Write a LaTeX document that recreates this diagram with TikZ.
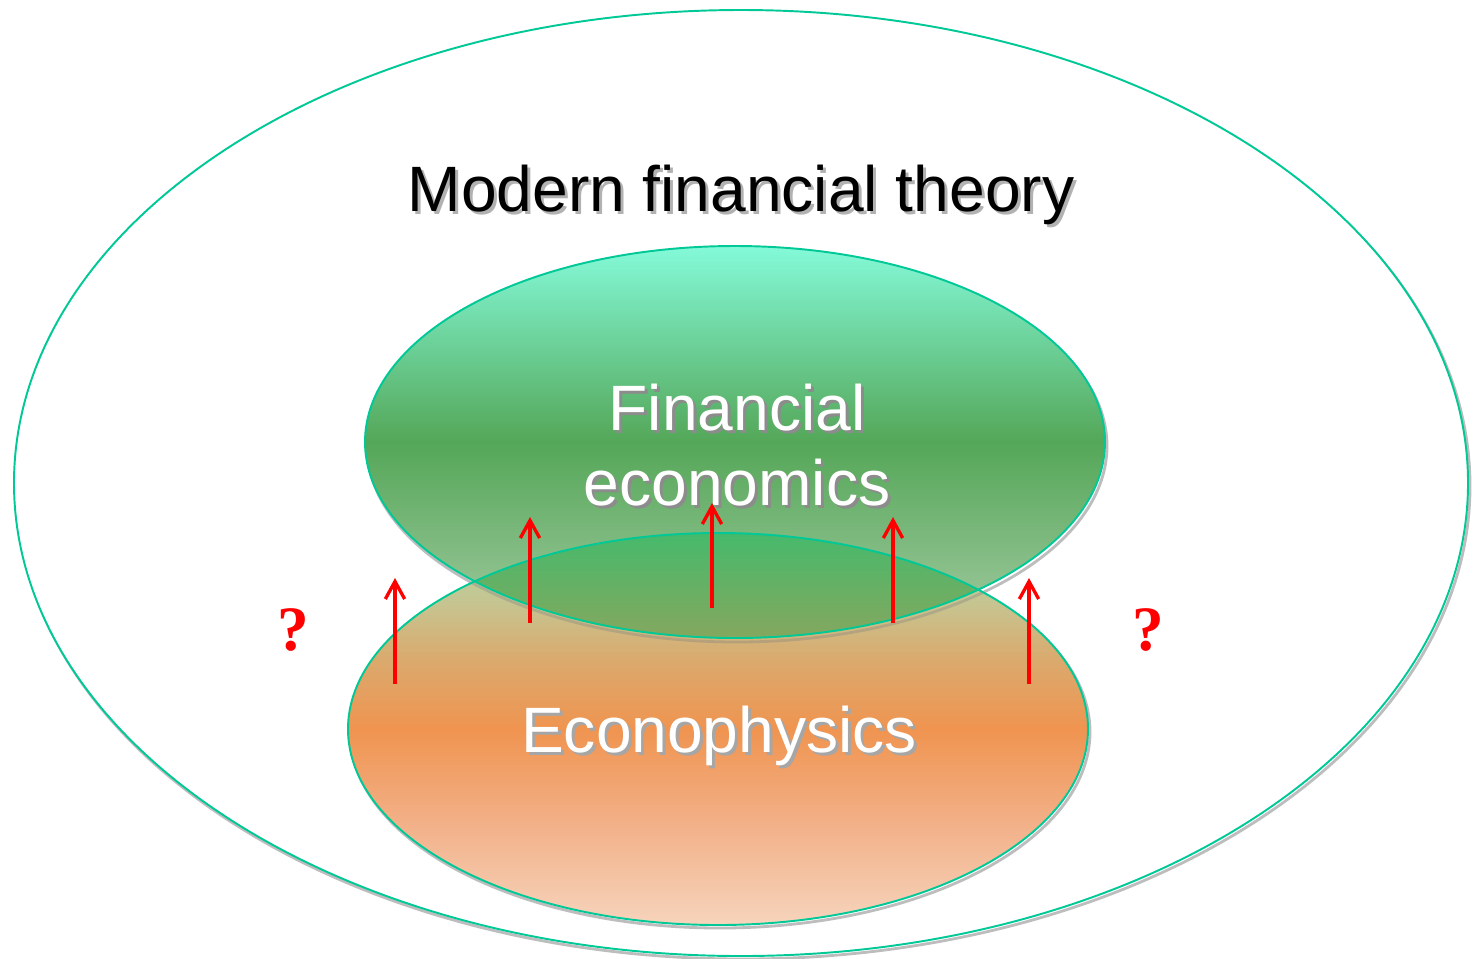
\documentclass[tikz,border=0pt]{standalone}
\usepackage{fontspec}
\setmainfont{Liberation Sans}
\newfontfamily\qfont{Liberation Serif}
\usetikzlibrary{arrows.meta}
\definecolor{edge}{HTML}{00C896}
\definecolor{gtop}{HTML}{84FAD9}
\definecolor{gmid}{HTML}{54A758}
\definecolor{gbot}{HTML}{A6CBA4}
\definecolor{oa}{HTML}{F6D4BC}
\definecolor{ob}{HTML}{F2B088}
\definecolor{oc}{HTML}{F09450}
\definecolor{od}{HTML}{DAAA6E}
\definecolor{oe}{HTML}{C6C490}
\definecolor{of}{HTML}{ACDAA8}
\definecolor{ovtop}{HTML}{44BA6C}
\definecolor{ovbot}{HTML}{86A75E}
\definecolor{shadowgray}{HTML}{BDBDBD}
\pgfdeclareverticalshading{orangeshade}{100bp}{color(0bp)=(oa); color(25bp)=(oa); color(38bp)=(ob); color(50bp)=(oc); color(59bp)=(od); color(66bp)=(oe); color(75bp)=(of); color(100bp)=(of)}
\pgfdeclareverticalshading{greenshade}{100bp}{color(0bp)=(gbot); color(25bp)=(gbot); color(50bp)=(gmid); color(75bp)=(gtop); color(100bp)=(gtop)}
\tikzset{
  outline/.style={draw=edge, line width=1.1pt},
  ellshadow/.style={draw=shadowgray, line width=1.6pt},
  bigtext/.style={font=\fontsize{36.5}{43}\selectfont, align=center, inner sep=0pt},
  txtshadow/.style={bigtext, text=black!30},
  qmark/.style={font=\qfont\bfseries\fontsize{36}{40}\selectfont, text=red, inner sep=0pt},
  uparrow/.style={draw=red, line width=1.9pt, -{Straight Barb[length=10pt,width=11pt]}}
}
\begin{document}
\begin{tikzpicture}[x=0.02cm, y=-0.02cm]
\useasboundingbox (0,0) rectangle (1479,958);
% outer ellipse
\draw[ellshadow] (743,486) ellipse [x radius=727, y radius=473];
\draw[outline, fill=white] (741,483) ellipse [x radius=727, y radius=473];
% green ellipse
\draw[ellshadow] (737,446) ellipse [x radius=370, y radius=196];
\shade[shading=greenshade] (735,442) ellipse [x radius=370, y radius=196];
% orange ellipse
\draw[ellshadow] (720,732) ellipse [x radius=370, y radius=196];
\shade[shading=orangeshade] (718,729) ellipse [x radius=370, y radius=196];
% overlap
\begin{scope}
  \clip (735,442) ellipse [x radius=370, y radius=196];
  \clip (718,729) ellipse [x radius=370, y radius=196];
  \shade[top color=ovtop, bottom color=ovbot] (300,530) rectangle (1200,640);
\end{scope}
\begin{scope}
  \clip (718,729) ellipse [x radius=370, y radius=196];
  \draw[draw=gray, opacity=0.35, line width=1.6pt] (737,446) ellipse [x radius=370, y radius=196];
\end{scope}
\draw[outline] (735,442) ellipse [x radius=370, y radius=196];
\draw[outline] (718,729) ellipse [x radius=370, y radius=196];
% texts
\node[txtshadow] at (744,198) {Modern financial theory};
\node[bigtext] (mft) at (741,195) {Modern financial theory};
\node[txtshadow, text=black!45] at (740,448) {Financial\\economics};
\node[bigtext, text=white] (fe) at (737,445) {Financial\\economics};
\node[txtshadow, text=black!35] at (722,739) {Econophysics};
\node[bigtext, text=white] (ep) at (719,736) {Econophysics};
\node[qmark] (q1) at (293,630) {?};
\node[qmark] (q2) at (1148,630) {?};
% arrows
\coordinate (a1s) at (395,684); \coordinate (a1e) at (395,578);
\coordinate (a2s) at (530,623); \coordinate (a2e) at (530,517);
\coordinate (a3s) at (712,608); \coordinate (a3e) at (712,503);
\coordinate (a4s) at (893,623); \coordinate (a4e) at (893,517);
\coordinate (a5s) at (1029,684); \coordinate (a5e) at (1029,578);
\draw[uparrow] (a1s) -- (a1e);
\draw[uparrow] (a2s) -- (a2e);
\draw[uparrow] (a3s) -- (a3e);
\draw[uparrow] (a4s) -- (a4e);
\draw[uparrow] (a5s) -- (a5e);
\end{tikzpicture}
\end{document}
